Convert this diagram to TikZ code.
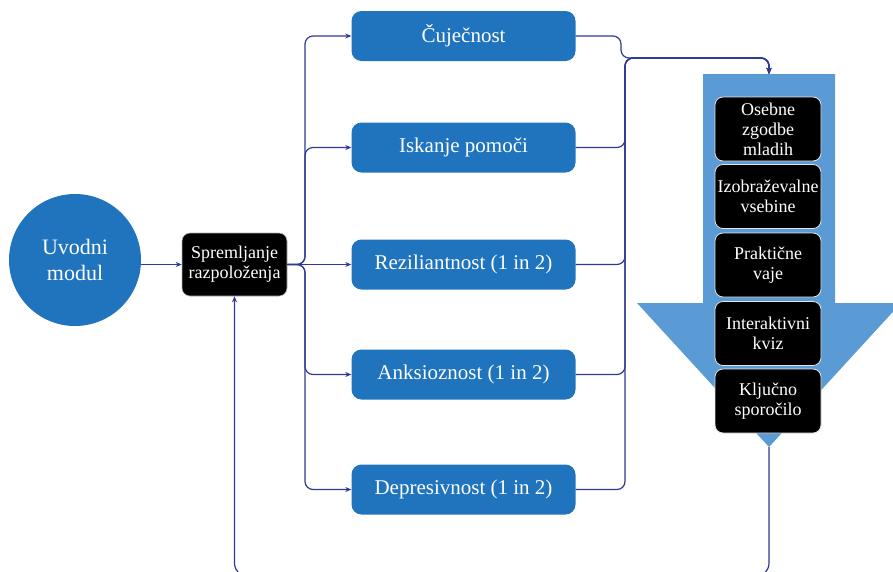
\documentclass[tikz,border=0pt]{standalone}
\usepackage{fontspec}
\setmainfont{Liberation Serif}
\usetikzlibrary{arrows.meta}
\definecolor{boxblue}{HTML}{1F74BD}
\definecolor{arrblue}{HTML}{5B9BD5}
\definecolor{navy}{HTML}{2E3A94}
\begin{document}
\begin{tikzpicture}[x=1pt,y=-1pt,
  circ/.style={circle,fill=boxblue,text=white,minimum size=132pt,inner sep=0pt,align=center,font=\fontsize{22}{26}\selectfont},
  blk/.style={rectangle,rounded corners=8pt,fill=black,draw=gray!60,line width=0.6pt,text=white,minimum width=105pt,minimum height=63pt,inner sep=1pt,align=center,font=\fontsize{18}{20}\selectfont},
  bluebox/.style={rectangle,rounded corners=10pt,fill=boxblue,text=white,minimum width=224pt,minimum height=50pt,inner sep=0pt,font=\fontsize{21}{24}\selectfont},
  inbox/.style={rectangle,rounded corners=8pt,fill=black,draw=white!80!gray,line width=0.8pt,text=white,minimum width=106pt,minimum height=64pt,inner sep=1pt,align=center,font=\fontsize{18}{20}\selectfont},
  conn/.style={draw=navy,line width=1.2pt,rounded corners=8pt},
  arr/.style={conn,-{Stealth[length=6pt,width=5pt]}}]
\useasboundingbox (0,0) rectangle (893,571);
\clip (0,0) rectangle (893,571);
% big arrow
\fill[arrblue] (703,74) -- (835,74) -- (835,303) -- (901,303) -- (769,447) -- (637,303) -- (703,303) -- cycle;
\coordinate (atop) at (769,74);
\coordinate (atip) at (769,447);
% nodes
\node[circ] (uv) at (75,260) {Uvodni\\modul};
\node[blk] (sp) at (234.5,264.5) {Spremljanje\\razpoloženja};
\node[bluebox] (cu) at (463.5,36) {Čuječnost};
\node[bluebox] (is) at (463.5,147.5) {Iskanje pomoči};
\node[bluebox] (re) at (463.5,264.5) {Reziliantnost (1 in 2)};
\node[bluebox] (an) at (463.5,374.5) {Anksioznost (1 in 2)};
\node[bluebox] (de) at (463.5,489.5) {Depresivnost (1 in 2)};
\node[inbox] (b1) at (768,129) {Osebne\\zgodbe\\mladih};
\node[inbox] (b2) at (768,196.5) {Izobraževalne\\vsebine};
\node[inbox] (b3) at (768,265) {Praktične\\vaje};
\node[inbox] (b4) at (768,333.5) {Interaktivni\\kviz};
\node[inbox] (b5) at (768,401) {Ključno\\sporočilo};
% bus coordinates
\coordinate (lbus) at (305,264.5);
\coordinate (rtop) at (625,58);
\coordinate (lb) at (234.5,577);
% connectors
\draw[arr] (sp.west -| uv.east) -- (sp.west);
\draw[arr] (sp.east) -- (lbus) |- (cu.west);
\draw[arr] (sp.east) -- (lbus) |- (is.west);
\draw[arr] (sp.east) -- (re.west);
\draw[arr] (sp.east) -- (lbus) |- (an.west);
\draw[arr] (sp.east) -- (lbus) |- (de.west);
\draw[arr] (cu.east) -- (621,36) -- (621,58) -| (atop);
\draw[arr] (is.east) -| (rtop) -| (atop);
\draw[arr] (re.east) -| (rtop) -| (atop);
\draw[arr] (an.east) -| (rtop) -| (atop);
\draw[arr] (de.east) -| (rtop) -| (atop);
\draw[arr,rounded corners=14pt] (atip) |- (lb) -- (sp.south);
\end{tikzpicture}
\end{document}
